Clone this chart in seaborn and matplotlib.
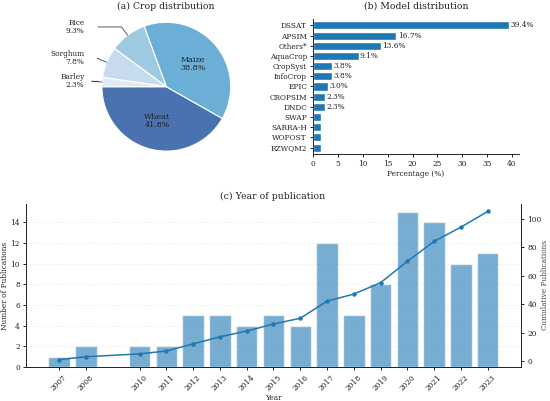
import numpy as np
import pandas as pd
import matplotlib
matplotlib.use("Agg")
import matplotlib.pyplot as plt
import seaborn as sns

# ---- data ----
crops = ["Wheat", "Maize", "Rice", "Sorghum", "Barley"]
crop_pct = [41.8, 38.8, 9.3, 7.8, 2.3]
crop_colors = ["#4a72b0", "#6baed6", "#9ecae1", "#c6dbef", "#deebf7"]

models = ["DSSAT", "APSIM", "Others*", "AquaCrop", "CropSyst", "InfoCrop", "EPIC",
          "CROPSIM", "DNDC", "SWAP", "SARRA-H", "WOFOST", "RZWQM2"]
model_pct = [39.4, 16.7, 13.6, 9.1, 3.8, 3.8, 3.0, 2.3, 2.3, 1.5, 1.5, 1.5, 1.5]

years = [2007, 2008, 2010, 2011, 2012, 2013, 2014, 2015, 2016, 2017, 2018, 2019,
         2020, 2021, 2022, 2023]
pubs = [1, 2, 2, 2, 5, 5, 4, 5, 4, 12, 5, 8, 15, 14, 10, 11]

sns.set_style("ticks")
plt.rcParams["font.family"] = ["DejaVu Serif"]
plt.rcParams["axes.linewidth"] = 0.7
plt.rcParams["xtick.major.width"] = 0.7
plt.rcParams["ytick.major.width"] = 0.7
plt.rcParams["xtick.major.size"] = 2.5
plt.rcParams["ytick.major.size"] = 2.5
plt.rcParams["xtick.major.pad"] = 2
plt.rcParams["ytick.major.pad"] = 2

W, H = 550, 401
fig = plt.figure(figsize=(5.5, 4.01), dpi=100)

def box(l, t, r, b):
    return [l / W, 1 - b / H, (r - l) / W, (b - t) / H]

TXT = "#222222"
TITLE_FS = 6.7
FS = 5.3

# ---- (a) pie ----
cx, cy, R = 166.3, 86.7, 64.4
L, T, Rr, B = 40, 16, 262, 165
axa = fig.add_axes(box(L, T, Rr, B))
wedges, _ = axa.pie(crop_pct, colors=crop_colors, startangle=180, counterclock=True,
                    wedgeprops=dict(edgecolor="white", linewidth=0.8))
axa.set_aspect("auto")
axa.set_xlim((L - cx) / R, (Rr - cx) / R)
axa.set_ylim((cy - B) / R, (cy - T) / R)
for w, name, pct in zip(wedges, crops, crop_pct):
    ang = (w.theta1 + w.theta2) / 2
    x, y = np.cos(np.deg2rad(ang)), np.sin(np.deg2rad(ang))
    if pct > 20:
        axa.text(0.55 * x, 0.55 * y, f"{name}\n{pct}%", ha="center", va="center",
                 fontsize=FS + 0.5, color=TXT, linespacing=1.0)
    else:
        ty = 1.16 * y
        axa.text(-1.27, ty, f"{name}\n{pct}%", ha="right", va="center",
                 fontsize=FS, color=TXT, linespacing=1.0)
        axa.annotate("", xy=(x, y), xytext=(-1.06, ty),
                     arrowprops=dict(arrowstyle="-", color="#444444", lw=0.6,
                                     shrinkA=0, shrinkB=0,
                                     connectionstyle=f"angle,angleA=0,angleB={ang}"))
fig.text(166 / W, 1 - 6.5 / H, "(a) Crop distribution", ha="center", va="center",
         fontsize=TITLE_FS, color=TXT)

# ---- (b) model bars ----
axb = fig.add_axes(box(313.3, 18.9, 518.8, 154.1))
dfm = pd.DataFrame({"model": models, "pct": model_pct})
sns.barplot(data=dfm, y="model", x="pct", orient="h", color="#1f77b4",
            saturation=1, width=0.8, ax=axb)
for i, v in enumerate(model_pct):
    if v > 2:
        axb.text(v + 0.3, i, f"{v}%", va="center", ha="left", fontsize=FS, color=TXT)
axb.set_xlim(0, 41.37)
axb.set_ylim(12.64, -0.64)
axb.set_xticks(range(0, 41, 5))
axb.set_ylabel("")
axb.set_xlabel("Percentage (%)", fontsize=FS, color=TXT, labelpad=1)
axb.tick_params(labelsize=FS, colors=TXT)
sns.despine(ax=axb)
fig.text(416.7 / W, 1 - 6.5 / H, "(b) Model distribution", ha="center", va="center",
         fontsize=TITLE_FS, color=TXT)

# ---- (c) publications by year ----
axc = fig.add_axes(box(26, 204, 521, 367))
axc.bar(years, pubs, width=0.8, color="#1f77b4", alpha=0.6, zorder=2)
axc.set_xlim(2005.76, 2024.24)
axc.set_ylim(0, 15.75)
axc.set_xticks(years)
axc.set_xticklabels([str(y) for y in years], rotation=45)
axc.set_yticks(range(0, 15, 2))
axc.grid(axis="y", linestyle="--", linewidth=0.4, alpha=0.4, zorder=0)
axc.set_axisbelow(True)
axc.tick_params(labelsize=FS, colors=TXT)
axc.set_xlabel("Year", fontsize=FS, color=TXT, labelpad=1)
axc.set_ylabel("Number of Publications", fontsize=FS, color=TXT)
axc.yaxis.set_label_coords((9.5 - 26) / 495, 0.5)
axc.spines["top"].set_visible(False)

axc2 = axc.twinx()
dfc = pd.DataFrame({"year": years, "cum": np.cumsum(pubs)})
sns.lineplot(data=dfc, x="year", y="cum", ax=axc2, color="#1f77b4", marker="o",
             markersize=3.2, markeredgewidth=0, linewidth=1.1)
axc2.set_ylim(-4.2, 110.2)
axc2.set_yticks(range(0, 101, 20))
axc2.set_xlim(2005.76, 2024.24)
axc2.tick_params(labelsize=FS, colors=TXT)
axc2.set_ylabel("Cumulative Publications", fontsize=FS, color="#444444")
axc2.yaxis.set_label_coords((540.7 - 26) / 495, 0.5)
axc2.set_xlabel("")
axc2.spines["top"].set_visible(False)
fig.text(273 / W, 1 - 196 / H, "(c) Year of publication", ha="center", va="center",
         fontsize=TITLE_FS, color=TXT)

fig.savefig("out.png", dpi=100)
